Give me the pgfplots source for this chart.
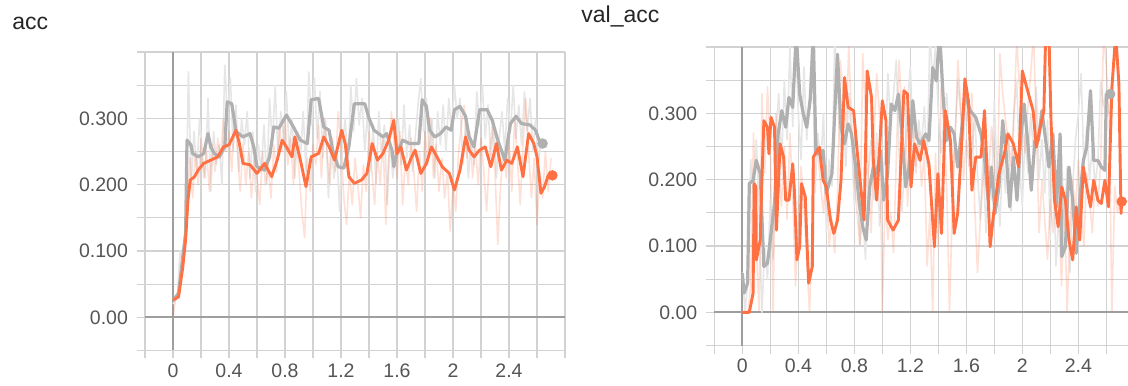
\documentclass[border=0pt]{standalone}
\usepackage{fontspec}
\setmainfont{Liberation Sans}
\usepackage{pgfplots}
\pgfplotsset{compat=1.18}

\definecolor{tbgrid}{HTML}{D2D2D2}
\definecolor{tbzero}{HTML}{9E9E9E}
\definecolor{tborange}{HTML}{FF7043}
\definecolor{tbgray}{HTML}{B0B0B0}
\definecolor{tbgraylight}{HTML}{E6E6E6}
\definecolor{tblabel}{HTML}{555555}
\definecolor{tbtitle}{HTML}{262626}

\pgfplotsset{
  tbpanel/.style={
    scale only axis, height=149.25pt,
    xmin=-0.2, ymin=-0.05, ymax=0.4,
    axis line style={draw=none},
    xtick={-0.2,0,0.2,0.4,0.6,0.8,1,1.2,1.4,1.6,1.8,2,2.2,2.4,2.6,2.8},
    xticklabels={,0,,0.4,,0.8,,1.2,,1.6,,2,,2.4,,},
    ytick={-0.05,0,0.05,0.1,0.15,0.2,0.25,0.3,0.35,0.4},
    yticklabels={,0.00,,0.100,,0.200,,0.300,,},
    grid=major, major grid style={tbgrid, line width=0.6pt},
    tick align=outside, major tick length=4pt,
    major tick style={tbgrid, line width=0.6pt},
    xtick pos=bottom, ytick pos=left,
    ticklabel style={font=\fontsize{9.75}{10}\selectfont, text=tblabel, inner sep=0pt},
    xticklabel style={anchor=north, yshift=-2.5pt},
    yticklabel style={anchor=east, xshift=-4.35pt},
    extra x ticks={0}, extra y ticks={0},
    extra x tick labels={}, extra y tick labels={},
    extra tick style={major grid style={tbzero, line width=1pt}},
  },
  rawgray/.style={tbgraylight, line width=0.8pt, line join=round},
  raworange/.style={tborange, opacity=0.22, line width=0.8pt, line join=round},
  smgray/.style={tbgray, line width=1.6pt, line join=round},
  smorange/.style={tborange, line width=1.45pt, line join=round},
  enddot/.style={only marks, mark=*, mark size=2.4pt},
}

\begin{document}
\begin{tikzpicture}
\useasboundingbox (0,0) rectangle (564pt,192.5pt);

\node[anchor=base west, inner sep=0pt, font=\fontsize{11.5}{12}\selectfont, text=tbtitle] at (6pt,177.5pt) {acc};
\node[anchor=base west, inner sep=0pt, font=\fontsize{11.5}{12}\selectfont, text=tbtitle] at (290.5pt,181pt) {val\_acc};

% ---------------- acc ----------------
\begin{axis}[tbpanel, width=210pt, xmax=2.8,
  at={(72.5pt,17.25pt)}, anchor=south west]
\addplot[rawgray] coordinates {
(0,0.02)(0.03,0.03)(0.05,0.10)(0.07,0.08)(0.09,0.12)(0.11,0.37)(0.13,0.20)(0.15,0.28)(0.17,0.22)(0.19,0.30)
(0.21,0.24)(0.23,0.21)(0.25,0.33)(0.27,0.19)(0.29,0.28)(0.31,0.23)(0.33,0.26)(0.35,0.20)(0.37,0.38)(0.39,0.30)
(0.41,0.36)(0.43,0.25)(0.45,0.32)(0.47,0.22)(0.49,0.30)(0.51,0.26)(0.53,0.31)(0.55,0.21)(0.57,0.28)(0.59,0.19)
(0.61,0.26)(0.63,0.22)(0.65,0.29)(0.67,0.20)(0.69,0.33)(0.71,0.26)(0.73,0.35)(0.75,0.24)(0.77,0.31)(0.79,0.27)
(0.81,0.34)(0.83,0.25)(0.85,0.30)(0.87,0.21)(0.89,0.28)(0.91,0.24)(0.93,0.31)(0.95,0.22)(0.97,0.37)(0.99,0.29)
(1.01,0.36)(1.03,0.27)(1.05,0.34)(1.07,0.24)(1.09,0.30)(1.11,0.18)(1.13,0.27)(1.15,0.21)(1.17,0.25)(1.19,0.16)
(1.21,0.26)(1.23,0.30)(1.25,0.22)(1.27,0.35)(1.29,0.28)(1.31,0.36)(1.33,0.29)(1.35,0.33)(1.37,0.25)(1.39,0.31)
(1.41,0.22)(1.43,0.29)(1.45,0.20)(1.47,0.31)(1.49,0.24)(1.51,0.29)(1.53,0.17)(1.55,0.27)(1.57,0.21)(1.59,0.25)
(1.61,0.30)(1.63,0.23)(1.65,0.32)(1.67,0.24)(1.69,0.29)(1.71,0.22)(1.73,0.27)(1.75,0.32)(1.77,0.36)(1.79,0.28)
(1.81,0.33)(1.83,0.24)(1.85,0.30)(1.87,0.21)(1.89,0.31)(1.91,0.26)(1.93,0.32)(1.95,0.25)(1.97,0.33)(1.99,0.28)
(2.01,0.35)(2.03,0.30)(2.05,0.33)(2.07,0.23)(2.09,0.29)(2.11,0.21)(2.13,0.27)(2.15,0.23)(2.17,0.34)(2.19,0.29)
(2.21,0.35)(2.23,0.27)(2.25,0.32)(2.27,0.24)(2.29,0.30)(2.31,0.21)(2.33,0.27)(2.35,0.31)(2.37,0.25)(2.39,0.33)
(2.41,0.28)(2.43,0.35)(2.45,0.27)(2.47,0.32)(2.49,0.26)(2.51,0.34)(2.53,0.28)(2.55,0.33)(2.57,0.25)(2.59,0.30)
(2.61,0.23)(2.63,0.27)};
\addplot[raworange] coordinates {
(0,0.00)(0.02,0.03)(0.04,0.04)(0.06,0.07)(0.08,0.10)(0.10,0.16)(0.12,0.24)(0.14,0.18)(0.16,0.25)(0.18,0.20)
(0.20,0.27)(0.22,0.21)(0.24,0.25)(0.26,0.19)(0.28,0.26)(0.30,0.22)(0.32,0.27)(0.34,0.24)(0.36,0.30)(0.38,0.25)
(0.40,0.28)(0.42,0.22)(0.44,0.31)(0.46,0.25)(0.48,0.19)(0.50,0.26)(0.52,0.20)(0.54,0.25)(0.56,0.18)(0.58,0.24)
(0.60,0.21)(0.62,0.17)(0.64,0.25)(0.66,0.20)(0.68,0.23)(0.70,0.18)(0.72,0.26)(0.74,0.22)(0.76,0.29)(0.78,0.25)
(0.80,0.30)(0.82,0.23)(0.84,0.27)(0.86,0.20)(0.88,0.28)(0.90,0.22)(0.92,0.16)(0.94,0.12)(0.96,0.24)(0.98,0.19)
(1.00,0.26)(1.02,0.23)(1.04,0.29)(1.06,0.21)(1.08,0.30)(1.10,0.25)(1.12,0.20)(1.14,0.27)(1.16,0.22)(1.18,0.31)
(1.20,0.26)(1.22,0.18)(1.24,0.14)(1.26,0.22)(1.28,0.17)(1.30,0.24)(1.32,0.20)(1.34,0.15)(1.36,0.23)(1.38,0.19)
(1.40,0.28)(1.42,0.22)(1.44,0.17)(1.46,0.25)(1.48,0.20)(1.50,0.27)(1.52,0.14)(1.54,0.24)(1.56,0.31)(1.58,0.26)
(1.60,0.21)(1.62,0.28)(1.64,0.17)(1.66,0.24)(1.68,0.20)(1.70,0.27)(1.72,0.22)(1.74,0.16)(1.76,0.25)(1.78,0.19)
(1.80,0.28)(1.82,0.23)(1.84,0.30)(1.86,0.21)(1.88,0.26)(1.90,0.19)(1.92,0.24)(1.94,0.18)(1.96,0.22)(1.98,0.13)
(2.00,0.20)(2.02,0.16)(2.04,0.25)(2.06,0.29)(2.08,0.32)(2.10,0.24)(2.12,0.28)(2.14,0.21)(2.16,0.26)(2.18,0.20)
(2.20,0.27)(2.22,0.22)(2.24,0.16)(2.26,0.24)(2.28,0.29)(2.30,0.22)(2.32,0.11)(2.34,0.20)(2.36,0.25)(2.38,0.21)
(2.40,0.27)(2.42,0.19)(2.44,0.30)(2.46,0.24)(2.48,0.17)(2.50,0.26)(2.52,0.33)(2.54,0.25)(2.56,0.18)(2.58,0.24)
(2.60,0.14)(2.62,0.22)(2.64,0.18)(2.66,0.25)(2.68,0.19)(2.70,0.24)};
\addplot[smgray] coordinates {
(0,0.026)(0.04,0.036)(0.064,0.081)(0.09,0.127)(0.10,0.267)(0.128,0.26)(0.14,0.247)(0.18,0.242)(0.22,0.247)(0.25,0.277)
(0.27,0.257)(0.295,0.247)(0.33,0.242)(0.37,0.257)(0.387,0.325)(0.42,0.322)(0.45,0.28)(0.5,0.272)(0.55,0.277)(0.577,0.257)
(0.6,0.227)(0.654,0.222)(0.69,0.242)(0.72,0.287)(0.756,0.285)(0.81,0.305)(0.86,0.287)(0.91,0.267)(0.96,0.262)(0.987,0.328)
(1.04,0.33)(1.077,0.287)(1.115,0.282)(1.14,0.252)(1.18,0.227)(1.22,0.225)(1.256,0.257)(1.295,0.322)(1.37,0.322)(1.4,0.30)
(1.436,0.282)(1.5,0.272)(1.526,0.277)(1.564,0.252)(1.577,0.227)(1.6,0.247)(1.64,0.267)(1.69,0.262)(1.756,0.262)(1.78,0.328)
(1.81,0.318)(1.833,0.282)(1.87,0.272)(1.91,0.277)(1.95,0.287)(1.987,0.282)(2.01,0.313)(2.05,0.318)(2.09,0.303)(2.115,0.272)
(2.15,0.257)(2.19,0.313)(2.244,0.313)(2.28,0.297)(2.32,0.267)(2.37,0.237)(2.41,0.292)(2.45,0.303)(2.49,0.292)(2.55,0.29)
(2.59,0.282)(2.615,0.267)(2.64,0.262)};
\addplot[smorange] coordinates {
(0,0.026)(0.04,0.031)(0.05,0.046)(0.07,0.076)(0.09,0.117)(0.107,0.177)(0.123,0.207)(0.154,0.212)(0.18,0.222)(0.218,0.232)
(0.27,0.237)(0.32,0.242)(0.36,0.257)(0.4,0.26)(0.45,0.282)(0.474,0.262)(0.5,0.232)(0.55,0.23)(0.6,0.217)(0.654,0.232)
(0.705,0.212)(0.744,0.237)(0.78,0.267)(0.81,0.257)(0.85,0.242)(0.87,0.272)(0.91,0.237)(0.95,0.197)(0.987,0.242)(1.04,0.247)
(1.077,0.272)(1.115,0.257)(1.154,0.237)(1.205,0.282)(1.23,0.262)(1.256,0.212)(1.295,0.202)(1.346,0.207)(1.385,0.217)(1.423,0.262)
(1.46,0.237)(1.5,0.247)(1.54,0.267)(1.577,0.297)(1.6,0.247)(1.628,0.257)(1.667,0.222)(1.705,0.242)(1.73,0.252)(1.77,0.217)
(1.81,0.232)(1.846,0.257)(1.885,0.242)(1.923,0.227)(1.974,0.217)(2.01,0.192)(2.05,0.222)(2.09,0.272)(2.115,0.252)(2.15,0.242)
(2.19,0.252)(2.23,0.257)(2.27,0.227)(2.31,0.262)(2.346,0.222)(2.385,0.237)(2.42,0.232)(2.46,0.257)(2.5,0.212)(2.54,0.277)
(2.577,0.262)(2.6,0.242)(2.628,0.187)(2.654,0.197)(2.68,0.214)(2.71,0.214)};
\addplot[enddot, tbgray] coordinates {(2.64,0.262)};
\addplot[enddot, tborange] coordinates {(2.71,0.214)};
\end{axis}

% ---------------- val_acc ----------------
\begin{axis}[tbpanel, width=206.85pt, xmax=2.755,
  at={(357.15pt,19.75pt)}, anchor=south west]
\addplot[rawgray] coordinates {
(0,0.06)(0.02,0.00)(0.04,0.05)(0.06,0.23)(0.08,0.18)(0.10,0.26)(0.12,0.15)(0.14,0.00)(0.16,0.10)(0.18,0.05)
(0.20,0.17)(0.22,0.08)(0.24,0.27)(0.26,0.33)(0.28,0.22)(0.30,0.35)(0.32,0.26)(0.34,0.40)(0.36,0.28)(0.38,0.42)
(0.40,0.30)(0.42,0.23)(0.44,0.37)(0.46,0.26)(0.48,0.33)(0.50,0.42)(0.52,0.18)(0.54,0.27)(0.56,0.22)(0.58,0.30)
(0.60,0.12)(0.62,0.23)(0.64,0.19)(0.66,0.41)(0.68,0.34)(0.70,0.25)(0.72,0.30)(0.74,0.22)(0.76,0.33)(0.78,0.26)
(0.80,0.16)(0.82,0.22)(0.84,0.10)(0.86,0.15)(0.88,0.08)(0.90,0.21)(0.92,0.26)(0.94,0.17)(0.96,0.27)(0.98,0.13)
(1.00,0.20)(1.02,0.24)(1.04,0.36)(1.06,0.28)(1.08,0.33)(1.10,0.38)(1.12,0.24)(1.14,0.15)(1.16,0.23)(1.18,0.31)
(1.20,0.37)(1.22,0.26)(1.24,0.22)(1.26,0.29)(1.28,0.25)(1.30,0.31)(1.32,0.22)(1.34,0.42)(1.36,0.35)(1.38,0.40)
(1.40,0.30)(1.42,0.24)(1.44,0.29)(1.46,0.33)(1.48,0.25)(1.50,0.18)(1.52,0.27)(1.54,0.35)(1.56,0.30)(1.58,0.26)
(1.60,0.32)(1.62,0.28)(1.64,0.24)(1.66,0.30)(1.68,0.21)(1.70,0.14)(1.72,0.24)(1.74,0.12)(1.76,0.22)(1.78,0.17)
(1.80,0.32)(1.82,0.20)(1.84,0.13)(1.86,0.24)(1.88,0.18)(1.90,0.27)(1.92,0.15)(1.94,0.30)(1.96,0.35)(1.98,0.22)
(2.00,0.16)(2.02,0.27)(2.04,0.21)(2.06,0.30)(2.08,0.24)(2.10,0.34)(2.12,0.20)(2.14,0.26)(2.16,0.18)(2.18,0.29)
(2.20,0.11)(2.22,0.26)(2.24,0.07)(2.26,0.14)(2.28,0.24)(2.30,0.13)(2.32,0.22)(2.34,0.06)(2.36,0.19)(2.38,0.26)
(2.40,0.30)(2.42,0.36)(2.44,0.22)(2.46,0.28)(2.48,0.20)(2.50,0.25)(2.52,0.19)(2.54,0.23)(2.56,0.35)(2.58,0.31)
(2.60,0.33)(2.62,0.30)};
\addplot[raworange] coordinates {
(0,0.00)(0.02,0.00)(0.04,0.00)(0.06,0.04)(0.08,0.27)(0.10,0.10)(0.12,0.00)(0.14,0.33)(0.16,0.21)(0.18,0.34)
(0.20,0.25)(0.22,0.00)(0.24,0.30)(0.26,0.22)(0.28,0.16)(0.30,0.25)(0.32,0.14)(0.34,0.27)(0.36,0.18)(0.38,0.04)
(0.40,0.14)(0.42,0.22)(0.44,0.16)(0.46,0.08)(0.48,0.00)(0.50,0.12)(0.52,0.28)(0.54,0.24)(0.56,0.19)(0.58,0.15)
(0.60,0.22)(0.62,0.10)(0.64,0.14)(0.66,0.09)(0.68,0.18)(0.70,0.38)(0.72,0.33)(0.74,0.27)(0.76,0.40)(0.78,0.29)
(0.80,0.20)(0.82,0.15)(0.84,0.10)(0.86,0.39)(0.88,0.30)(0.90,0.21)(0.92,0.12)(0.94,0.26)(0.96,0.36)(0.98,0.30)
(1.00,0.00)(1.02,0.17)(1.04,0.11)(1.06,0.15)(1.08,0.09)(1.10,0.23)(1.12,0.38)(1.14,0.30)(1.16,0.34)(1.18,0.16)
(1.20,0.25)(1.22,0.29)(1.24,0.21)(1.26,0.27)(1.28,0.19)(1.30,0.24)(1.32,0.07)(1.34,0.15)(1.36,0.00)(1.38,0.24)
(1.40,0.10)(1.42,0.34)(1.44,0.28)(1.46,0.19)(1.48,0.00)(1.50,0.16)(1.52,0.26)(1.54,0.38)(1.56,0.31)(1.58,0.20)
(1.60,0.26)(1.62,0.22)(1.64,0.33)(1.66,0.16)(1.68,0.06)(1.70,0.14)(1.72,0.20)(1.74,0.25)(1.76,0.21)(1.78,0.28)
(1.80,0.23)(1.82,0.17)(1.84,0.39)(1.86,0.33)(1.88,0.29)(1.90,0.26)(1.92,0.22)(1.94,0.30)(1.96,0.41)(1.98,0.34)
(2.00,0.29)(2.02,0.24)(2.04,0.31)(2.06,0.36)(2.08,0.42)(2.10,0.28)(2.12,0.12)(2.14,0.20)(2.16,0.14)(2.18,0.08)
(2.20,0.17)(2.22,0.12)(2.24,0.21)(2.26,0.15)(2.28,0.04)(2.30,0.17)(2.32,0.00)(2.34,0.13)(2.36,0.20)(2.38,0.15)
(2.40,0.23)(2.42,0.16)(2.44,0.10)(2.46,0.21)(2.48,0.17)(2.50,0.12)(2.52,0.20)(2.54,0.16)(2.56,0.23)(2.58,0.42)
(2.60,0.37)(2.62,0.30)(2.64,0.00)(2.66,0.19)(2.68,0.15)(2.70,0.17)};
\addplot[smgray] coordinates {
(0,0.059)(0.013,0.029)(0.038,0.044)(0.05,0.194)(0.077,0.199)(0.1,0.229)(0.128,0.209)(0.154,0.069)(0.18,0.074)(0.205,0.119)
(0.23,0.164)(0.256,0.269)(0.282,0.304)(0.31,0.279)(0.333,0.324)(0.36,0.309)(0.385,0.42)(0.41,0.329)(0.436,0.299)(0.46,0.279)
(0.487,0.324)(0.507,0.42)(0.526,0.239)(0.55,0.239)(0.577,0.244)(0.6,0.179)(0.64,0.209)(0.68,0.389)(0.705,0.279)(0.73,0.254)
(0.756,0.284)(0.78,0.269)(0.81,0.219)(0.833,0.169)(0.86,0.129)(0.885,0.109)(0.91,0.189)(0.936,0.219)(0.96,0.209)(0.987,0.244)
(1.01,0.169)(1.038,0.209)(1.064,0.314)(1.09,0.304)(1.115,0.329)(1.14,0.269)(1.167,0.189)(1.19,0.219)(1.218,0.319)(1.244,0.264)
(1.27,0.254)(1.31,0.269)(1.333,0.259)(1.36,0.369)(1.385,0.349)(1.41,0.42)(1.436,0.319)(1.46,0.259)(1.487,0.279)(1.513,0.269)
(1.538,0.219)(1.564,0.269)(1.59,0.329)(1.628,0.304)(1.667,0.294)(1.705,0.269)(1.73,0.234)(1.756,0.169)(1.78,0.219)(1.805,0.149)
(1.833,0.189)(1.86,0.289)(1.885,0.239)(1.91,0.159)(1.936,0.234)(1.962,0.169)(1.987,0.259)(2.013,0.314)(2.038,0.259)(2.064,0.184)
(2.09,0.259)(2.115,0.259)(2.14,0.304)(2.167,0.259)(2.19,0.219)(2.218,0.269)(2.244,0.159)(2.27,0.269)(2.282,0.084)(2.308,0.099)
(2.333,0.219)(2.36,0.169)(2.385,0.089)(2.41,0.169)(2.436,0.229)(2.46,0.249)(2.487,0.334)(2.51,0.229)(2.54,0.229)(2.564,0.219)
(2.59,0.214)(2.6,0.329)(2.628,0.329)};
\addplot[smorange] coordinates {
(0,0)(0.05,0)(0.077,0.029)(0.085,0.194)(0.097,0.189)(0.10,0.079)(0.128,0.109)(0.14,0.199)(0.154,0.289)(0.18,0.279)
(0.19,0.239)(0.205,0.294)(0.23,0.279)(0.244,0.124)(0.27,0.254)(0.295,0.234)(0.31,0.169)(0.333,0.169)(0.36,0.224)(0.372,0.184)
(0.39,0.079)(0.41,0.099)(0.423,0.194)(0.45,0.174)(0.46,0.114)(0.474,0.044)(0.5,0.069)(0.507,0.234)(0.55,0.249)(0.577,0.199)
(0.6,0.189)(0.63,0.139)(0.654,0.119)(0.68,0.139)(0.705,0.199)(0.73,0.354)(0.756,0.309)(0.795,0.304)(0.82,0.244)(0.846,0.189)
(0.87,0.139)(0.892,0.364)(0.923,0.324)(0.936,0.229)(0.96,0.169)(1.0,0.319)(1.026,0.289)(1.038,0.139)(1.077,0.124)(1.115,0.139)
(1.154,0.334)(1.18,0.329)(1.205,0.189)(1.23,0.254)(1.27,0.229)(1.295,0.259)(1.333,0.224)(1.372,0.099)(1.397,0.209)(1.423,0.119)
(1.45,0.304)(1.487,0.259)(1.513,0.119)(1.538,0.149)(1.564,0.244)(1.59,0.352)(1.615,0.319)(1.64,0.184)(1.667,0.234)(1.705,0.234)
(1.73,0.304)(1.756,0.174)(1.77,0.099)(1.795,0.149)(1.833,0.209)(1.872,0.239)(1.897,0.269)(1.936,0.254)(1.974,0.219)(2.0,0.364)
(2.038,0.334)(2.077,0.304)(2.1,0.249)(2.128,0.279)(2.154,0.304)(2.167,0.42)(2.19,0.42)(2.205,0.289)(2.23,0.169)(2.256,0.129)
(2.282,0.189)(2.308,0.169)(2.333,0.109)(2.36,0.079)(2.385,0.159)(2.41,0.109)(2.436,0.219)(2.46,0.189)(2.487,0.159)(2.51,0.199)
(2.54,0.169)(2.564,0.164)(2.59,0.199)(2.615,0.159)(2.64,0.339)(2.667,0.42)(2.69,0.344)(2.705,0.149)(2.71,0.167)};
\addplot[enddot, tbgray] coordinates {(2.628,0.329)};
\addplot[enddot, tborange] coordinates {(2.71,0.167)};
\end{axis}
\end{tikzpicture}
\end{document}
